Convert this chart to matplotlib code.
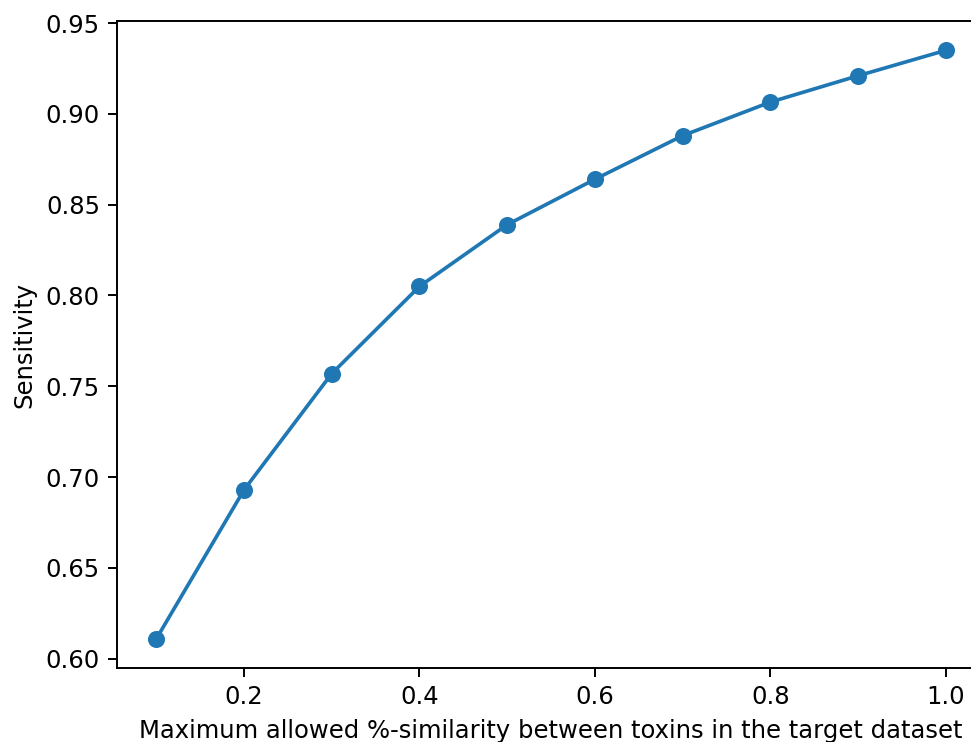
import numpy as np
import matplotlib
matplotlib.use("Agg")
import matplotlib.pyplot as plt

# max allowed similarity vs sensitivity
similarity = [0.1, 0.2, 0.3, 0.4, 0.5, 0.6, 0.7, 0.8, 0.9, 1.0]
sensitivity = [0.611, 0.693, 0.757, 0.805, 0.839, 0.864, 0.888, 0.9065, 0.921, 0.935]

dpi = 175
W, H = 971, 742
fig = plt.figure(figsize=(W / dpi, H / dpi), dpi=dpi)
# default-size axes, but the picture is cropped on the right and bottom
ax = fig.add_axes([117 / W, (H - 668) / H, 868 / W, 647 / H])

ax.plot(similarity, sensitivity, marker='o', color='#1f77b4')

ax.set_xticks([0.2, 0.4, 0.6, 0.8, 1.0])
ax.set_xlabel('Maximum allowed %-similarity between toxins in the target dataset')
ax.set_ylabel('Sensitivity')
# right spine falls outside the cropped picture
ax.spines['right'].set_visible(False)

fig.savefig('out.png', dpi=dpi)
